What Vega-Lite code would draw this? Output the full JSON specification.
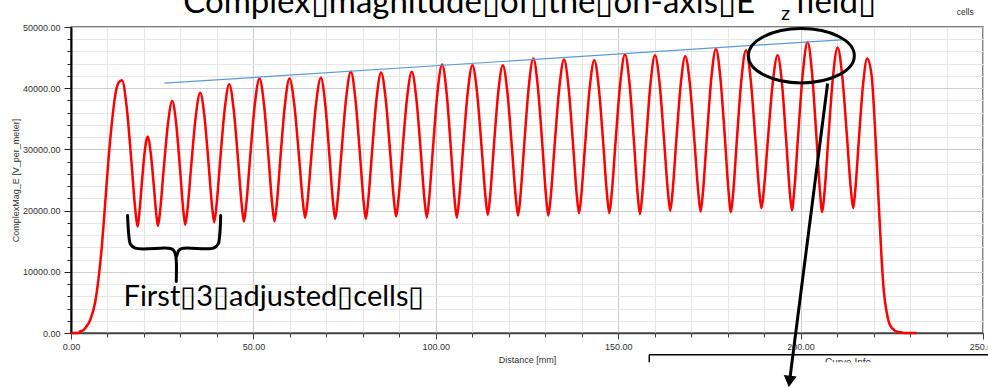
{
  "$schema": "https://vega.github.io/schema/vega-lite/v6.json",
  "autosize": "none",
  "width": 912,
  "height": 306,
  "padding": {"left": 71, "top": 27, "right": 5, "bottom": 54},
  "background": "white",
  "config": {
    "view": {"stroke": "#555", "strokeWidth": 1.5},
    "axis": {"labelFont": "Liberation Sans", "titleFont": "Liberation Sans", "labelFontSize": 9, "titleFontSize": 9, "labelColor": "#333", "titleColor": "#333", "titleFontWeight": "normal"}
  },
  "datasets": {
    "curve": [
      {"d":0,"v":0},{"d":2.0,"v":0},{"d":2.55,"v":260},{"d":3.37,"v":460},{"d":3.92,"v":815},{"d":5.29,"v":2170},{"d":6.66,"v":5150},{"d":7.56,"v":8970},{"d":8.49,"v":14400},{"d":9.40,"v":21460},{"d":10.30,"v":28540},{"d":11.23,"v":34510},{"d":12.14,"v":38870},{"d":13.04,"v":40940},
      {"d":13.97,"v":41310},{"d":15.25,"v":37000},{"d":16.54,"v":28150},{"d":17.61,"v":20260},
      {"d":18.25,"v":17390},{"d":18.66,"v":19150},{"d":19.35,"v":24000},{"d":20.17,"v":29430},
      {"d":20.99,"v":32070},{"d":21.85,"v":29450},{"d":22.70,"v":24060},{"d":23.41,"v":19250},
      {"d":23.84,"v":17500},{"d":24.43,"v":19950},{"d":25.40,"v":26680},{"d":26.58,"v":34220},
      {"d":27.75,"v":37890},{"d":28.82,"v":34250},{"d":29.89,"v":26760},{"d":30.78,"v":20090},
      {"d":31.32,"v":17660},{"d":31.94,"v":20250},{"d":32.96,"v":27370},{"d":34.19,"v":35360},
      {"d":35.42,"v":39240},{"d":36.57,"v":35440},{"d":37.72,"v":27610},{"d":38.68,"v":20640},
      {"d":39.26,"v":18100},{"d":39.88,"v":20810},{"d":40.90,"v":28250},{"d":42.14,"v":36600},
      {"d":43.37,"v":40660},{"d":44.58,"v":36620},{"d":45.79,"v":28310},{"d":46.80,"v":20900},
      {"d":47.40,"v":18200},{"d":48.04,"v":21010},{"d":49.11,"v":28730},{"d":50.39,"v":37380},
      {"d":51.67,"v":41590},{"d":52.90,"v":37380},{"d":54.14,"v":28730},{"d":55.16,"v":21010},
      {"d":55.78,"v":18200},{"d":56.40,"v":21010},{"d":57.42,"v":28730},{"d":58.66,"v":37380},
      {"d":59.89,"v":41590},{"d":61.18,"v":37490},{"d":62.47,"v":29060},{"d":63.55,"v":21540},
      {"d":64.19,"v":18810},{"d":64.84,"v":21560},{"d":65.91,"v":29110},{"d":67.20,"v":37570},
      {"d":68.49,"v":41690},{"d":69.67,"v":37540},{"d":70.84,"v":29010},{"d":71.82,"v":21410},
      {"d":72.41,"v":18640},{"d":73.06,"v":21520},{"d":74.13,"v":29450},{"d":75.42,"v":38350},
      {"d":76.71,"v":42670},{"d":77.94,"v":38350},{"d":79.18,"v":29450},{"d":80.20,"v":21520},
      {"d":80.82,"v":18640},{"d":81.45,"v":21510},{"d":82.50,"v":29410},{"d":83.75,"v":38260},
      {"d":85.01,"v":42570},{"d":86.24,"v":38330},{"d":87.48,"v":29620},{"d":88.50,"v":21850},
      {"d":89.12,"v":19020},{"d":89.77,"v":21860},{"d":90.84,"v":29660},{"d":92.13,"v":38410},
      {"d":93.42,"v":42670},{"d":94.65,"v":38380},{"d":95.89,"v":29570},{"d":96.91,"v":21710},
      {"d":97.53,"v":18850},{"d":98.16,"v":21850},{"d":99.21,"v":30110},{"d":100.47,"v":39370},
      {"d":101.73,"v":43870},{"d":102.94,"v":39370},{"d":104.14,"v":30110},{"d":105.15,"v":21850},
      {"d":105.75,"v":18850},{"d":106.39,"v":21840},{"d":107.46,"v":30060},{"d":108.75,"v":39280},
      {"d":110.03,"v":43760},{"d":111.30,"v":39360},{"d":112.56,"v":30310},{"d":113.62,"v":22240},
      {"d":114.25,"v":19300},{"d":114.87,"v":22240},{"d":115.89,"v":30310},{"d":117.13,"v":39360},
      {"d":118.36,"v":43760},{"d":119.62,"v":39340},{"d":120.87,"v":30240},{"d":121.92,"v":22130},
      {"d":122.55,"v":19180},{"d":123.18,"v":22260},{"d":124.23,"v":30730},{"d":125.48,"v":40230},
      {"d":126.74,"v":44850},{"d":127.97,"v":40230},{"d":129.21,"v":30730},{"d":130.23,"v":22260},
      {"d":130.85,"v":19180},{"d":131.50,"v":22240},{"d":132.57,"v":30660},{"d":133.86,"v":40100},
      {"d":135.15,"v":44690},{"d":136.38,"v":40170},{"d":137.62,"v":30870},{"d":138.64,"v":22580},
      {"d":139.26,"v":19570},{"d":139.89,"v":22570},{"d":140.94,"v":30830},{"d":142.19,"v":40080},
      {"d":143.45,"v":44580},{"d":144.68,"v":40080},{"d":145.92,"v":30820},{"d":146.94,"v":22570},
      {"d":147.56,"v":19570},{"d":148.21,"v":22690},{"d":149.28,"v":31260},{"d":150.57,"v":40870},
      {"d":151.86,"v":45550},{"d":153.09,"v":40850},{"d":154.33,"v":31170},{"d":155.35,"v":22550},
      {"d":155.97,"v":19410},{"d":156.59,"v":22530},{"d":157.61,"v":31100},{"d":158.85,"v":40710},
      {"d":160.08,"v":45390},{"d":161.34,"v":40810},{"d":162.59,"v":31400},{"d":163.64,"v":23000},
      {"d":164.27,"v":19950},{"d":164.89,"v":22980},{"d":165.91,"v":31330},{"d":167.15,"v":40680},
      {"d":168.38,"v":45230},{"d":169.65,"v":40660},{"d":170.91,"v":31260},{"d":171.97,"v":22880},
      {"d":172.60,"v":19830},{"d":173.23,"v":23020},{"d":174.28,"v":31800},{"d":175.53,"v":41630},
      {"d":176.79,"v":46420},{"d":178.02,"v":41620},{"d":179.26,"v":31750},{"d":180.28,"v":22940},
      {"d":180.90,"v":19740},{"d":181.52,"v":22920},{"d":182.54,"v":31650},{"d":183.78,"v":41450},
      {"d":185.01,"v":46210},{"d":186.29,"v":41560},{"d":187.56,"v":32010},{"d":188.62,"v":23490},
      {"d":189.26,"v":20390},{"d":189.93,"v":23390},{"d":191.04,"v":31640},{"d":192.37,"v":40890},
      {"d":193.70,"v":45390},{"d":194.88,"v":40830},{"d":196.05,"v":31460},{"d":197.03,"v":23100},
      {"d":197.62,"v":20060},{"d":198.27,"v":23360},{"d":199.34,"v":32440},{"d":200.63,"v":42610},
      {"d":201.92,"v":47560},{"d":203.12,"v":42550},{"d":204.32,"v":32260},{"d":205.32,"v":23080},
      {"d":205.92,"v":19740},{"d":206.55,"v":22970},{"d":207.61,"v":31850},{"d":208.87,"v":41810},
      {"d":210.14,"v":46650},{"d":211.42,"v":41920},{"d":212.70,"v":32210},{"d":213.77,"v":23540},
      {"d":214.41,"v":20390},{"d":214.99,"v":23330},{"d":215.95,"v":31400},{"d":217.10,"v":40450},
      {"d":218.25,"v":44850},{"d":219.45,"v":42130},{"d":220.36,"v":33970},{"d":221.26,"v":23100},{"d":222.19,"v":12230},{"d":222.82,"v":6790},{"d":223.56,"v":3520},{"d":224.47,"v":1350},{"d":225.84,"v":375},{"d":227.21,"v":130},{"d":228.6,"v":0},{"d":231.8,"v":0}
    ],
    "trend": [{"d":25.6,"v":40820},{"d":212.1,"v":47950}],
    "brace": [
      {"part":"a","i":1,"d":15.51,"v":19180},{"part":"a","i":2,"d":15.84,"v":16030},{"part":"a","i":3,"d":16.25,"v":14560},{"part":"a","i":4,"d":17.62,"v":13860},{"part":"a","i":5,"d":26.66,"v":13860},{"part":"a","i":6,"d":28.03,"v":13590},{"part":"a","i":7,"d":28.71,"v":12610},{"part":"a","i":8,"d":28.85,"v":8420},
      {"part":"b","i":1,"d":41.04,"v":19180},{"part":"b","i":2,"d":40.77,"v":16030},{"part":"b","i":3,"d":40.36,"v":14560},{"part":"b","i":4,"d":39.07,"v":13860},{"part":"b","i":5,"d":31.04,"v":13860},{"part":"b","i":6,"d":29.67,"v":13590},{"part":"b","i":7,"d":28.99,"v":12610}
    ],
    "ring": [{"d":200.2,"v":45310}],
    "arrow": [{"d":207.4,"v":40775},{"d":197.1,"v":-7290}],
    "arrowhead": [{"d":196.96,"v":-7900}],
    "note": [{"d":14.41,"v":4340,"label":"First▯3▯adjusted▯cells▯"}],
    "heading": [{"d":30.77,"v":52340,"label":"Complex▯magnitude▯of▯the▯on-axis▯E"},{"d":198.6,"v":52340,"label":"field▯"}],
    "sub": [{"d":194.6,"v":51100,"label":"z"}],
    "cells": [{"d":242.8,"v":51910,"label":"cells"}],
    "box": [{"d":158.52,"v":-3540,"d2":262,"v2":-3540},{"d":158.52,"v":-3540,"d2":158.52,"v2":-4900}],
    "boxtitle": [{"d":213.0,"v":-4110,"label":"Curve Info"}],
    "mask": [{"d":158.0,"v":-4760,"d2":262,"v2":-12000}]
  },
  "encoding": {
    "x": {"field": "d", "type": "quantitative", "scale": {"domain": [0, 250], "nice": false, "zero": false},
      "axis": {"values": [0,10,20,30,40,50,60,70,80,90,100,110,120,130,140,150,160,170,180,190,200,210,220,230,240,250],
        "labelExpr": "datum.value % 50 === 0 ? format(datum.value, '.2f') : ''",
        "title": "Distance [mm]", "titlePadding": 4, "labelPadding": 3,
        "grid": true, "gridColor": {"condition": {"test": "datum.value % 50 === 0", "value": "#cdcdcd"}, "value": "#e6e6e6"}, "gridWidth": 1,
        "tickSize": {"condition": {"test": "datum.value % 50 === 0", "value": 6}, "value": 4},
        "tickColor": "#444", "domainColor": "#444", "domainWidth": 1.5, "labelFlush": false, "labelOverlap": false}},
    "y": {"field": "v", "type": "quantitative", "scale": {"domain": [0, 50000], "nice": false, "zero": false},
      "axis": {"values": [0,2000,4000,6000,8000,10000,12000,14000,16000,18000,20000,22000,24000,26000,28000,30000,32000,34000,36000,38000,40000,42000,44000,46000,48000,50000],
        "labelExpr": "datum.value % 10000 === 0 ? format(datum.value, '.2f') : ''",
        "title": "ComplexMag_E [V_per_meter]", "titlePadding": 2, "labelPadding": 4,
        "grid": true, "gridColor": {"condition": {"test": "datum.value % 10000 === 0", "value": "#cdcdcd"}, "value": "#e6e6e6"}, "gridWidth": 1,
        "tickSize": {"condition": {"test": "datum.value % 10000 === 0", "value": 7}, "value": 4},
        "tickColor": "#222", "domainColor": "#000", "domainWidth": 2, "labelOverlap": false}}
  },
  "layer": [
    {"data": {"name": "curve"}, "mark": {"type": "line", "color": "#ff0000", "strokeWidth": 2.5, "interpolate": "monotone"}},
    {"data": {"name": "trend"}, "mark": {"type": "line", "color": "#5b9bd5", "strokeWidth": 1.2}},
    {"data": {"name": "brace"}, "mark": {"type": "line", "color": "#000", "strokeWidth": 3, "interpolate": "catmull-rom", "strokeCap": "round", "strokeJoin": "round"},
      "encoding": {"detail": {"field": "part"}, "order": {"field": "i", "type": "quantitative"}}},
    {"data": {"name": "ring"}, "mark": {"type": "point", "filled": false, "stroke": "#000", "strokeWidth": 3, "opacity": 1, "size": 11236,
      "shape": "M -1 0 C -1 -0.283 -0.552 -0.513 0 -0.513 C 0.552 -0.513 1 -0.283 1 0 C 1 0.283 0.552 0.513 0 0.513 C -0.552 0.513 -1 0.283 -1 0 Z"}},
    {"data": {"name": "note"}, "mark": {"type": "text", "font": "Lato", "fontSize": 29, "align": "left", "baseline": "alphabetic", "color": "#000"}, "encoding": {"text": {"field": "label"}}},
    {"data": {"name": "heading"}, "mark": {"type": "text", "font": "Lato", "fontSize": 33, "align": "left", "baseline": "alphabetic", "color": "#000"}, "encoding": {"text": {"field": "label"}}},
    {"data": {"name": "sub"}, "mark": {"type": "text", "font": "Lato", "fontSize": 20, "align": "left", "baseline": "alphabetic", "color": "#000"}, "encoding": {"text": {"field": "label"}}},
    {"data": {"name": "cells"}, "mark": {"type": "text", "font": "Liberation Sans", "fontSize": 8.5, "align": "left", "baseline": "alphabetic", "color": "#333"}, "encoding": {"text": {"field": "label"}}},
    {"data": {"name": "box"}, "mark": {"type": "rule", "color": "#000", "strokeWidth": 1.5}, "encoding": {"x2": {"field": "d2"}, "y2": {"field": "v2"}}},
    {"data": {"name": "boxtitle"}, "mark": {"type": "text", "font": "Liberation Sans", "fontSize": 10, "align": "center", "baseline": "top", "color": "#333"}, "encoding": {"text": {"field": "label"}}},
    {"data": {"name": "mask"}, "mark": {"type": "rect", "color": "#ffffff", "opacity": 1}, "encoding": {"x2": {"field": "d2"}, "y2": {"field": "v2"}}},
    {"data": {"name": "arrow"}, "mark": {"type": "line", "color": "#000", "strokeWidth": 3}},
    {"data": {"name": "arrowhead"}, "mark": {"type": "point", "shape": "triangle-down", "filled": true, "color": "#000", "opacity": 1, "size": 170, "angle": 7.4}}
  ]
}
